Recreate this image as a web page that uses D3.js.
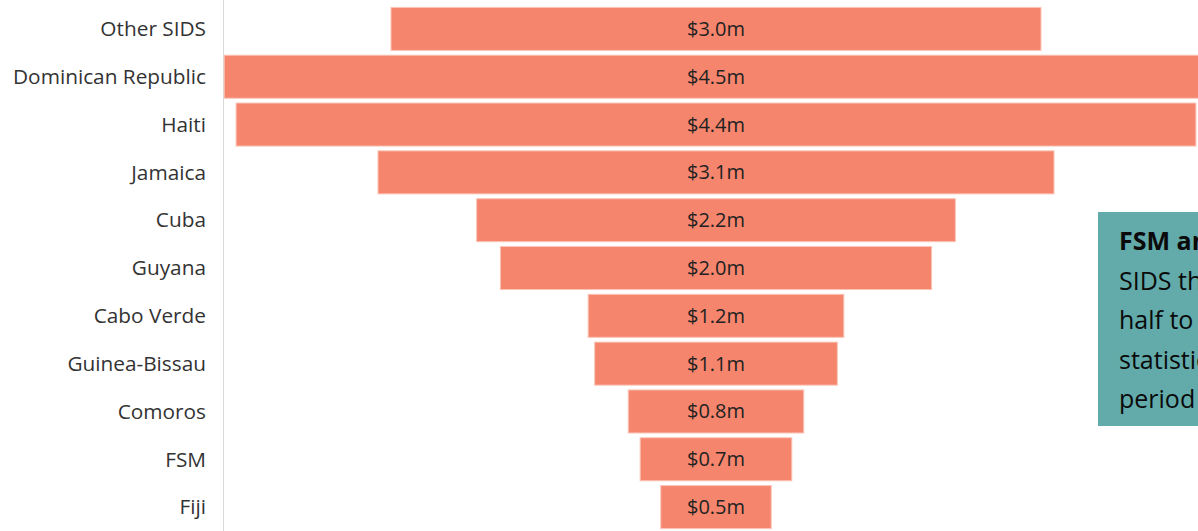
<!DOCTYPE html>
<meta charset="utf-8">
<script src="https://d3js.org/d3.v7.min.js"></script>
<style>
  body { margin: 0; background: #fff; }
</style>
<div id="chart"></div>
<script>

// countries, top to bottom
var countries = ["Other SIDS", "Dominican Republic", "Haiti", "Jamaica", "Cuba", "Guyana",
  "Cabo Verde", "Guinea-Bissau", "Comoros", "FSM", "Fiji"];

// amounts in $ millions
var amounts = [3.0, 4.54, 4.43, 3.12, 2.21, 1.99, 1.18, 1.12, 0.81, 0.70, 0.51];

// note box text (clipped at the right edge)
var noteLines = ["FSM and Fiji", "SIDS that received", "half to a third of", "statistical support", "period under review"];

var width = 1198, height = 531;

var svg = d3.select("#chart")
  .append("svg")
    .attr("width", width)
    .attr("height", height);

// y band per country
var y = d3.scaleBand()
  .domain(countries)
  .range([5, 531])
  .paddingInner(0.1)
  .paddingOuter(0.05);

// x centred on 716, symmetrical
var x = d3.scaleLinear()
  .domain([-1.5, 1.5])
  .range([391, 1041]);

// axis line on the left
svg.append("line")
  .attr("x1", 223.5).attr("x2", 223.5)
  .attr("y1", 0).attr("y2", height)
  .attr("stroke", "#d9d9d9")
  .attr("stroke-width", 1);

// bars
svg.selectAll("rect.bar")
  .data(countries)
  .enter()
  .append("rect")
    .attr("class", "bar")
    .attr("x", function(d, i){ return x(-amounts[i] / 2) })
    .attr("y", function(d){ return y(d) })
    .attr("width", function(d, i){ return x(amounts[i] / 2) - x(-amounts[i] / 2) })
    .attr("height", y.bandwidth())
    .attr("fill", "#f5866d")
    .attr("stroke", "#fbc5b8")
    .attr("stroke-width", 1);

// value labels
svg.selectAll("text.val")
  .data(countries)
  .enter()
  .append("text")
    .attr("class", "val")
    .attr("x", x(0))
    .attr("y", function(d){ return y(d) + y.bandwidth() / 2 })
    .attr("dy", "0.35em")
    .attr("text-anchor", "middle")
    .style("font-family", "'Open Sans', sans-serif")
    .style("font-size", "20px")
    .style("fill", "#222")
    .text(function(d, i){ return "$" + amounts[i].toFixed(1) + "m" });

// category labels
svg.selectAll("text.cat")
  .data(countries)
  .enter()
  .append("text")
    .attr("class", "cat")
    .attr("x", 206)
    .attr("y", function(d){ return y(d) + y.bandwidth() / 2 })
    .attr("dy", "0.35em")
    .attr("text-anchor", "end")
    .style("font-family", "'Open Sans', sans-serif")
    .style("font-size", "20.8px")
    .style("fill", "#333")
    .text(function(d){ return d });

// note box, runs off the right edge
var note = svg.append("g");
note.append("rect")
  .attr("x", 1098).attr("y", 212)
  .attr("width", 140).attr("height", 214)
  .attr("fill", "#62abaa");

note.selectAll("text")
  .data(noteLines)
  .enter()
  .append("text")
    .attr("x", 1119)
    .attr("y", function(d, i){ return 250 + i * 39.5 })
    .style("font-family", "'Open Sans', sans-serif")
    .style("font-size", "25px")
    .style("font-weight", function(d, i){ return i == 0 ? "bold" : "normal" })
    .style("fill", "#0a0a0a")
    .text(function(d){ return d });

</script>
